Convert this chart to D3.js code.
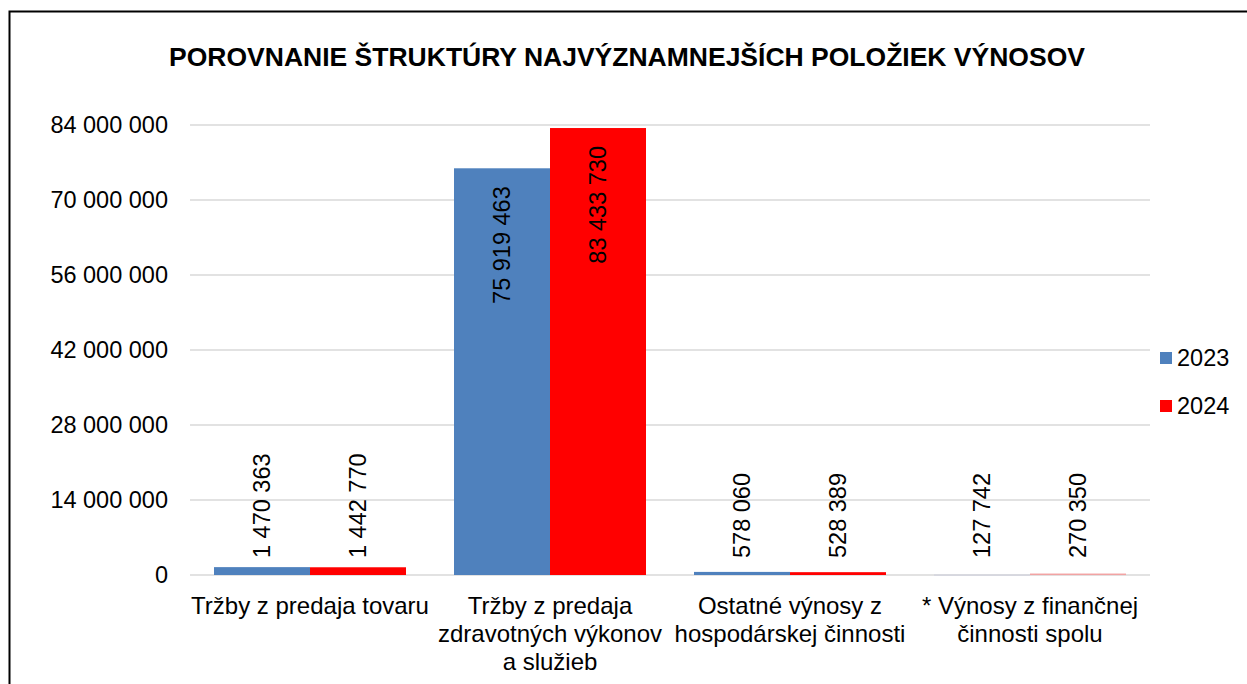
<!DOCTYPE html>
<html lang="sk">
<head>
<meta charset="utf-8">
<script src="https://cdn.jsdelivr.net/npm/d3@7"></script>
<style>
  body { margin: 0; background: #fff; }
  text { font-family: "Liberation Sans", Arial, sans-serif; fill: #000; }
</style>
</head>
<body>
<svg width="1247" height="684"></svg>
<script>
var categories = [
  ["Tržby z predaja tovaru"],
  ["Tržby z predaja", "zdravotných výkonov", "a služieb"],
  ["Ostatné výnosy z", "hospodárskej činnosti"],
  ["* Výnosy z finančnej", "činnosti spolu"]
];
var series = ["2023", "2024"];
var values2023 = [1470363, 75919463, 578060, 127742];
var values2024 = [1442770, 83433730, 528389, 270350];
var yTicks = [0, 14000000, 28000000, 42000000, 56000000, 70000000, 84000000];

var colors = {"2023": "#4f81bd", "2024": "#ff0000"};
// last category is drawn faded in the original
var fadedColors = {"2023": "#d3d5de", "2024": "#f2a3a3"};

var svg = d3.select("svg");
var plotLeft = 190, plotRight = 1150, plotTop = 125, plotBottom = 575;

// frame
svg.append("rect")
  .attr("x", 9.5).attr("y", 11.5)
  .attr("width", 1300).attr("height", 800)
  .attr("fill", "none").attr("stroke", "#000").attr("stroke-width", 2);

svg.append("text")
  .attr("x", 627).attr("y", 66)
  .attr("text-anchor", "middle")
  .attr("font-size", 26.5).attr("font-weight", "bold")
  .text("POROVNANIE ŠTRUKTÚRY NAJVÝZNAMNEJŠÍCH POLOŽIEK VÝNOSOV");

var y = d3.scaleLinear().domain([0, 84000000]).range([plotBottom, plotTop]);
var x0 = d3.scaleBand().domain(d3.range(categories.length)).range([plotLeft, plotRight]).paddingInner(0.2).paddingOuter(0.1);
var x1 = d3.scaleBand().domain(series).range([0, x0.bandwidth()]);

var fmt = function(v) { return d3.format(",")(v).replace(/,/g, " "); };

// gridlines
svg.append("g").selectAll("line").data(yTicks).enter().append("line")
  .attr("x1", plotLeft).attr("x2", plotRight)
  .attr("y1", function(d) { return y(d); }).attr("y2", function(d) { return y(d); })
  .attr("stroke", "#d9d9d9").attr("stroke-width", 1.5);

// y axis labels
var yAxis = d3.axisLeft(y).tickValues(yTicks).tickSize(0).tickPadding(22).tickFormat(fmt);
var ga = svg.append("g").attr("transform", "translate(" + plotLeft + ",0)").call(yAxis);
ga.select(".domain").remove();
ga.selectAll("text").attr("font-size", 23.5).attr("font-family", "Liberation Sans, Arial, sans-serif").attr("fill", "#000");

var data = categories.map(function(c, i) {
  return {i: i, vals: [{s: "2023", v: values2023[i]}, {s: "2024", v: values2024[i]}]};
});

var groups = svg.append("g").selectAll("g").data(data).enter().append("g")
  .attr("transform", function(d) { return "translate(" + x0(d.i) + ",0)"; });

groups.selectAll("rect").data(function(d) { return d.vals.map(function(e) { return {i: d.i, s: e.s, v: e.v}; }); })
  .enter().append("rect")
  .attr("x", function(d) { return x1(d.s); })
  .attr("width", x1.bandwidth())
  .attr("y", function(d) { return y(d.v); })
  .attr("height", function(d) { return Math.max(plotBottom - y(d.v), 1.5); })
  .attr("fill", function(d) { return d.i === 3 ? fadedColors[d.s] : colors[d.s]; });

groups.selectAll("text.val").data(function(d) { return d.vals; })
  .enter().append("text")
  .attr("class", "val")
  .attr("font-size", 23.5)
  .attr("dominant-baseline", "central")
  .attr("text-anchor", function(d) { return d.v > 20000000 ? "end" : "start"; })
  .attr("transform", function(d) {
    var cx = x1(d.s) + x1.bandwidth() / 2;
    var ty = d.v > 20000000 ? y(d.v) + 18 : Math.min(y(d.v), plotBottom - 8) - 9;
    return "translate(" + cx + "," + ty + ") rotate(-90)";
  })
  .text(function(d) { return fmt(d.v); });

// category labels
svg.append("g").selectAll("text").data(categories).enter().append("text")
  .attr("x", function(d, i) { return x0(i) + x0.bandwidth() / 2; })
  .attr("y", 614)
  .attr("text-anchor", "middle")
  .attr("font-size", 24)
  .each(function(d) {
    var t = d3.select(this);
    d.forEach(function(line, k) {
      t.append("tspan").attr("x", t.attr("x")).attr("dy", k === 0 ? 0 : 28).text(line);
    });
  });

// legend
var lg = svg.append("g").selectAll("g").data(series).enter().append("g")
  .attr("transform", function(d, i) { return "translate(1160," + (352 + i * 48) + ")"; });
lg.append("rect").attr("width", 12).attr("height", 12).attr("fill", function(d) { return colors[d]; });
lg.append("text").attr("x", 17).attr("y", 6).attr("dominant-baseline", "central").attr("font-size", 23.5).text(function(d) { return d; });
</script>
</body>
</html>
